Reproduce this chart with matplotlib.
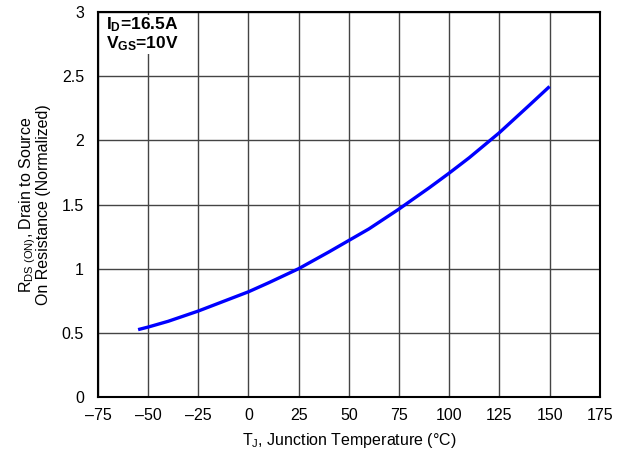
import matplotlib
matplotlib.use("Agg")
import matplotlib.pyplot as plt

# values
temp_c = [-55, -50, -40, -25, -10, 0, 10, 25, 40, 50, 60, 75, 90, 100, 110, 125, 140, 150]
r_norm = [0.525, 0.545, 0.59, 0.67, 0.76, 0.82, 0.89, 1.0, 1.13, 1.22, 1.31, 1.465, 1.63, 1.745, 1.865, 2.06, 2.275, 2.42]

x_ticks = [-75, -50, -25, 0, 25, 50, 75, 100, 125, 150, 175]
y_ticks = [0, 0.5, 1, 1.5, 2, 2.5, 3]
y_labels = ["0", "0.5", "1", "1.5", "2", "2.5", "3"]

plt.rcParams['font.family'] = ['Liberation Sans', 'DejaVu Sans']
plt.rcParams['mathtext.fontset'] = 'custom'
plt.rcParams['mathtext.rm'] = 'Liberation Sans'
plt.rcParams['mathtext.it'] = 'Liberation Sans'
plt.rcParams['mathtext.bf'] = 'Liberation Sans:bold'
plt.rcParams['mathtext.default'] = 'regular'

fig = plt.figure(figsize=(6.28, 4.55), dpi=100)
ax = fig.add_axes([0.156, 0.1275, 0.799, 0.846])

ax.plot(temp_c, r_norm, color='#0000ff', linewidth=2.4, solid_capstyle='butt', zorder=3)

ax.set_xlim(-75, 175)
ax.set_ylim(0, 3)
ax.set_xticks(x_ticks)
ax.set_xticklabels([str(t).replace('-', '\u2013') for t in x_ticks])
ax.set_yticks(y_ticks)
ax.set_yticklabels(y_labels)
ax.tick_params(length=0, labelsize=11.5)
ax.tick_params(axis='x', pad=8)
ax.tick_params(axis='y', pad=10)
ax.grid(True, color='#444444', linewidth=1.0)
for s in ax.spines.values():
    s.set_linewidth(1.5)
    s.set_color('black')

ax.set_xlabel("T$_J$, Junction Temperature (\u00b0C)", fontsize=11.5, labelpad=6)
ax.set_ylabel("R$_{DS\\ (ON)}$, Drain to Source\nOn Resistance (Normalized)",
              fontsize=11.5, labelpad=8, linespacing=0.85)

ax.text(-71, 2.975, "I$_D$=16.5A\nV$_{GS}$=10V", fontsize=12.5, fontweight='bold',
        va='top', ha='left', linespacing=1.05,
        bbox=dict(facecolor='white', edgecolor='none', pad=0.5))

fig.savefig("out.png", dpi=100)
